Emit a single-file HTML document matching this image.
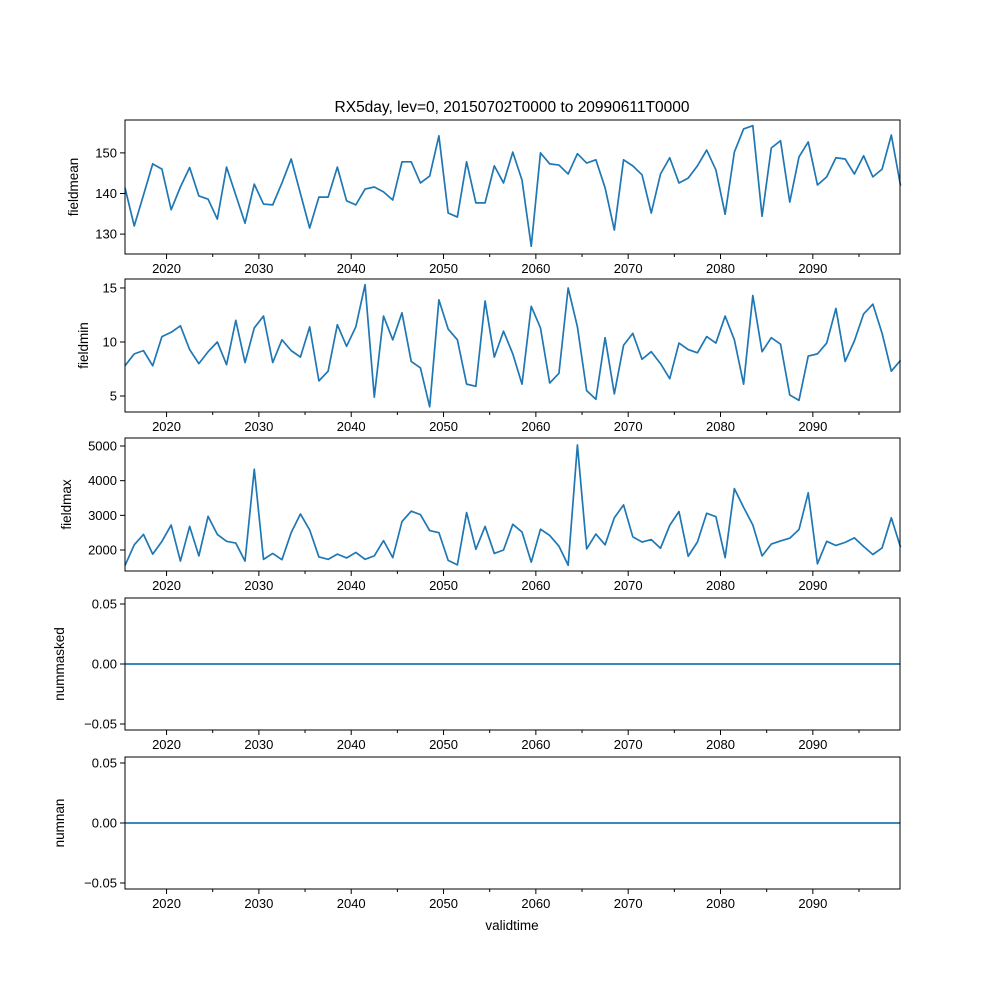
<!DOCTYPE html>
<html><head><meta charset="utf-8"><style>
body{margin:0;background:#fff}
svg text{font-family:"Liberation Sans","DejaVu Sans",sans-serif;fill:#000}
</style></head><body>
<svg id="chart" width="1000" height="1000" viewBox="0 0 1000 1000" xmlns="http://www.w3.org/2000/svg">
<rect width="1000" height="1000" fill="#fff"/>
<text x="512" y="112" font-size="15.5" text-anchor="middle">RX5day, lev=0, 20150702T0000 to 20990611T0000</text>
<text x="512" y="930" font-size="13.5" text-anchor="middle">validtime</text>
</svg>
<script>
const fieldmean=[141.4,132,139.6,147.3,146,136,141.6,146.4,139.4,138.6,133.7,146.5,139.6,132.7,142.3,137.4,137.2,142.6,148.5,140,131.5,139.1,139.1,146.5,138.2,137.2,141.1,141.6,140.4,138.4,147.8,147.8,142.6,144.3,154.2,135.2,134.2,147.8,137.7,137.7,146.8,142.6,150.2,143.3,127,150,147.3,147,144.8,149.8,147.5,148.3,141.4,131,148.3,146.8,144.6,135.2,144.8,148.8,142.6,143.8,146.8,150.7,145.8,134.9,150.2,155.9,156.7,134.4,151.2,153,137.9,149,152.7,142.1,144.1,148.8,148.5,144.8,149.3,144.1,146,154.4,141.9];
const fieldmin=[7.8,8.9,9.2,7.8,10.5,10.9,11.5,9.3,8.0,9.1,10.0,7.9,12.0,8.1,11.3,12.4,8.1,10.2,9.2,8.6,11.4,6.4,7.3,11.6,9.6,11.4,15.3,4.9,12.4,10.2,12.7,8.2,7.6,4.0,13.9,11.2,10.2,6.1,5.9,13.8,8.6,11.0,8.9,6.1,13.3,11.3,6.2,7.1,15.0,11.4,5.5,4.7,10.4,5.2,9.7,10.8,8.4,9.1,8.0,6.6,9.9,9.3,9.0,10.5,9.9,12.4,10.2,6.1,14.3,9.1,10.4,9.8,5.1,4.6,8.7,8.9,9.9,13.1,8.2,10.1,12.6,13.5,10.8,7.3,8.3];
const fieldmax=[1550,2150,2450,1880,2250,2720,1680,2680,1830,2970,2450,2250,2200,1680,4330,1730,1900,1720,2500,3040,2580,1800,1730,1880,1770,1930,1730,1830,2270,1780,2820,3120,3020,2560,2500,1700,1570,3080,2020,2680,1900,2000,2740,2520,1650,2600,2420,2110,1560,5030,2030,2460,2150,2930,3300,2380,2230,2300,2050,2710,3110,1820,2230,3060,2960,1780,3770,3230,2720,1830,2170,2260,2340,2590,3650,1600,2250,2130,2220,2350,2100,1870,2060,2930,2080];
const nummasked=new Array(85).fill(0);
const numnan=new Array(85).fill(0);
const startYear=2015.5;
const xTicks=[2020,2030,2040,2050,2060,2070,2080,2090];
const xMinor=[2025,2035,2045,2055,2065,2075,2085,2095];
const panels=[
 {name:'fieldmean',data:fieldmean,top:120,bot:254,ymin:125.1,ymax:158.1,ticks:[130,140,150],fmt:v=>String(v)},
 {name:'fieldmin',data:fieldmin,top:279,bot:412,ymin:3.52,ymax:15.83,ticks:[5,10,15],fmt:v=>String(v)},
 {name:'fieldmax',data:fieldmax,top:438,bot:571,ymin:1394,ymax:5231,ticks:[2000,3000,4000,5000],fmt:v=>String(v)},
 {name:'nummasked',data:nummasked,top:598,bot:730,ymin:-0.055,ymax:0.055,ticks:[-0.05,0,0.05],fmt:v=>v.toFixed(2).replace('-','−')},
 {name:'numnan',data:numnan,top:757,bot:889,ymin:-0.055,ymax:0.055,ticks:[-0.05,0,0.05],fmt:v=>v.toFixed(2).replace('-','−')}
];
const L=125,R=900,x0=2015.5,x1=2099.44;
const NS='http://www.w3.org/2000/svg';
const svg=document.getElementById('chart');
const xs=t=>L+(t-x0)/(x1-x0)*(R-L);
function mk(tag,attrs,parent){const e=document.createElementNS(NS,tag);for(const k in attrs)e.setAttribute(k,attrs[k]);(parent||svg).appendChild(e);return e;}
panels.forEach(p=>{
 const g=mk('g',{});
 
 
 const ys=v=>p.bot-(v-p.ymin)/(p.ymax-p.ymin)*(p.bot-p.top);
 const pts=p.data.map((v,i)=>xs(startYear+i).toFixed(2)+','+ys(v).toFixed(2)).join(' ');
 const ln=mk('polyline',{points:pts,fill:'none',stroke:'#1f77b4','stroke-width':1.7,'stroke-linejoin':'round'},g);
 
 
 const fr=mk('rect',{x:L,y:p.top,width:R-L,height:p.bot-p.top,fill:'none',stroke:'#000','stroke-width':1},g);
 
 
 xTicks.forEach(t=>{const x=xs(t);mk('line',{x1:x,x2:x,y1:p.bot,y2:p.bot+5,stroke:'#000'},g);
  const tx=mk('text',{x:x,y:p.bot+19,'font-size':13,'text-anchor':'middle'},g);tx.textContent=t;
  
  });
 xMinor.forEach(t=>{const x=xs(t);if(x<=R)mk('line',{x1:x,x2:x,y1:p.bot,y2:p.bot+3,stroke:'#000'},g);});
 p.ticks.forEach(v=>{const y=ys(v);mk('line',{x1:L-5,x2:L,y1:y,y2:y,stroke:'#000'},g);
  const tx=mk('text',{x:L-8,y:y+4.5,'font-size':13,'text-anchor':'end'},g);tx.textContent=p.fmt(v);
  
  });
 const yc=(p.top+p.bot)/2;
 const lab=p.name==='fieldmax'?71:(p.name==='fieldmin'?88:(p.name==='fieldmean'?78:64));
 const yt=mk('text',{x:lab,y:yc,'font-size':13.5,'text-anchor':'middle',transform:`rotate(-90 ${lab} ${yc})`},g);
 yt.textContent=p.name;
 
 
});
</script>
</body></html>
